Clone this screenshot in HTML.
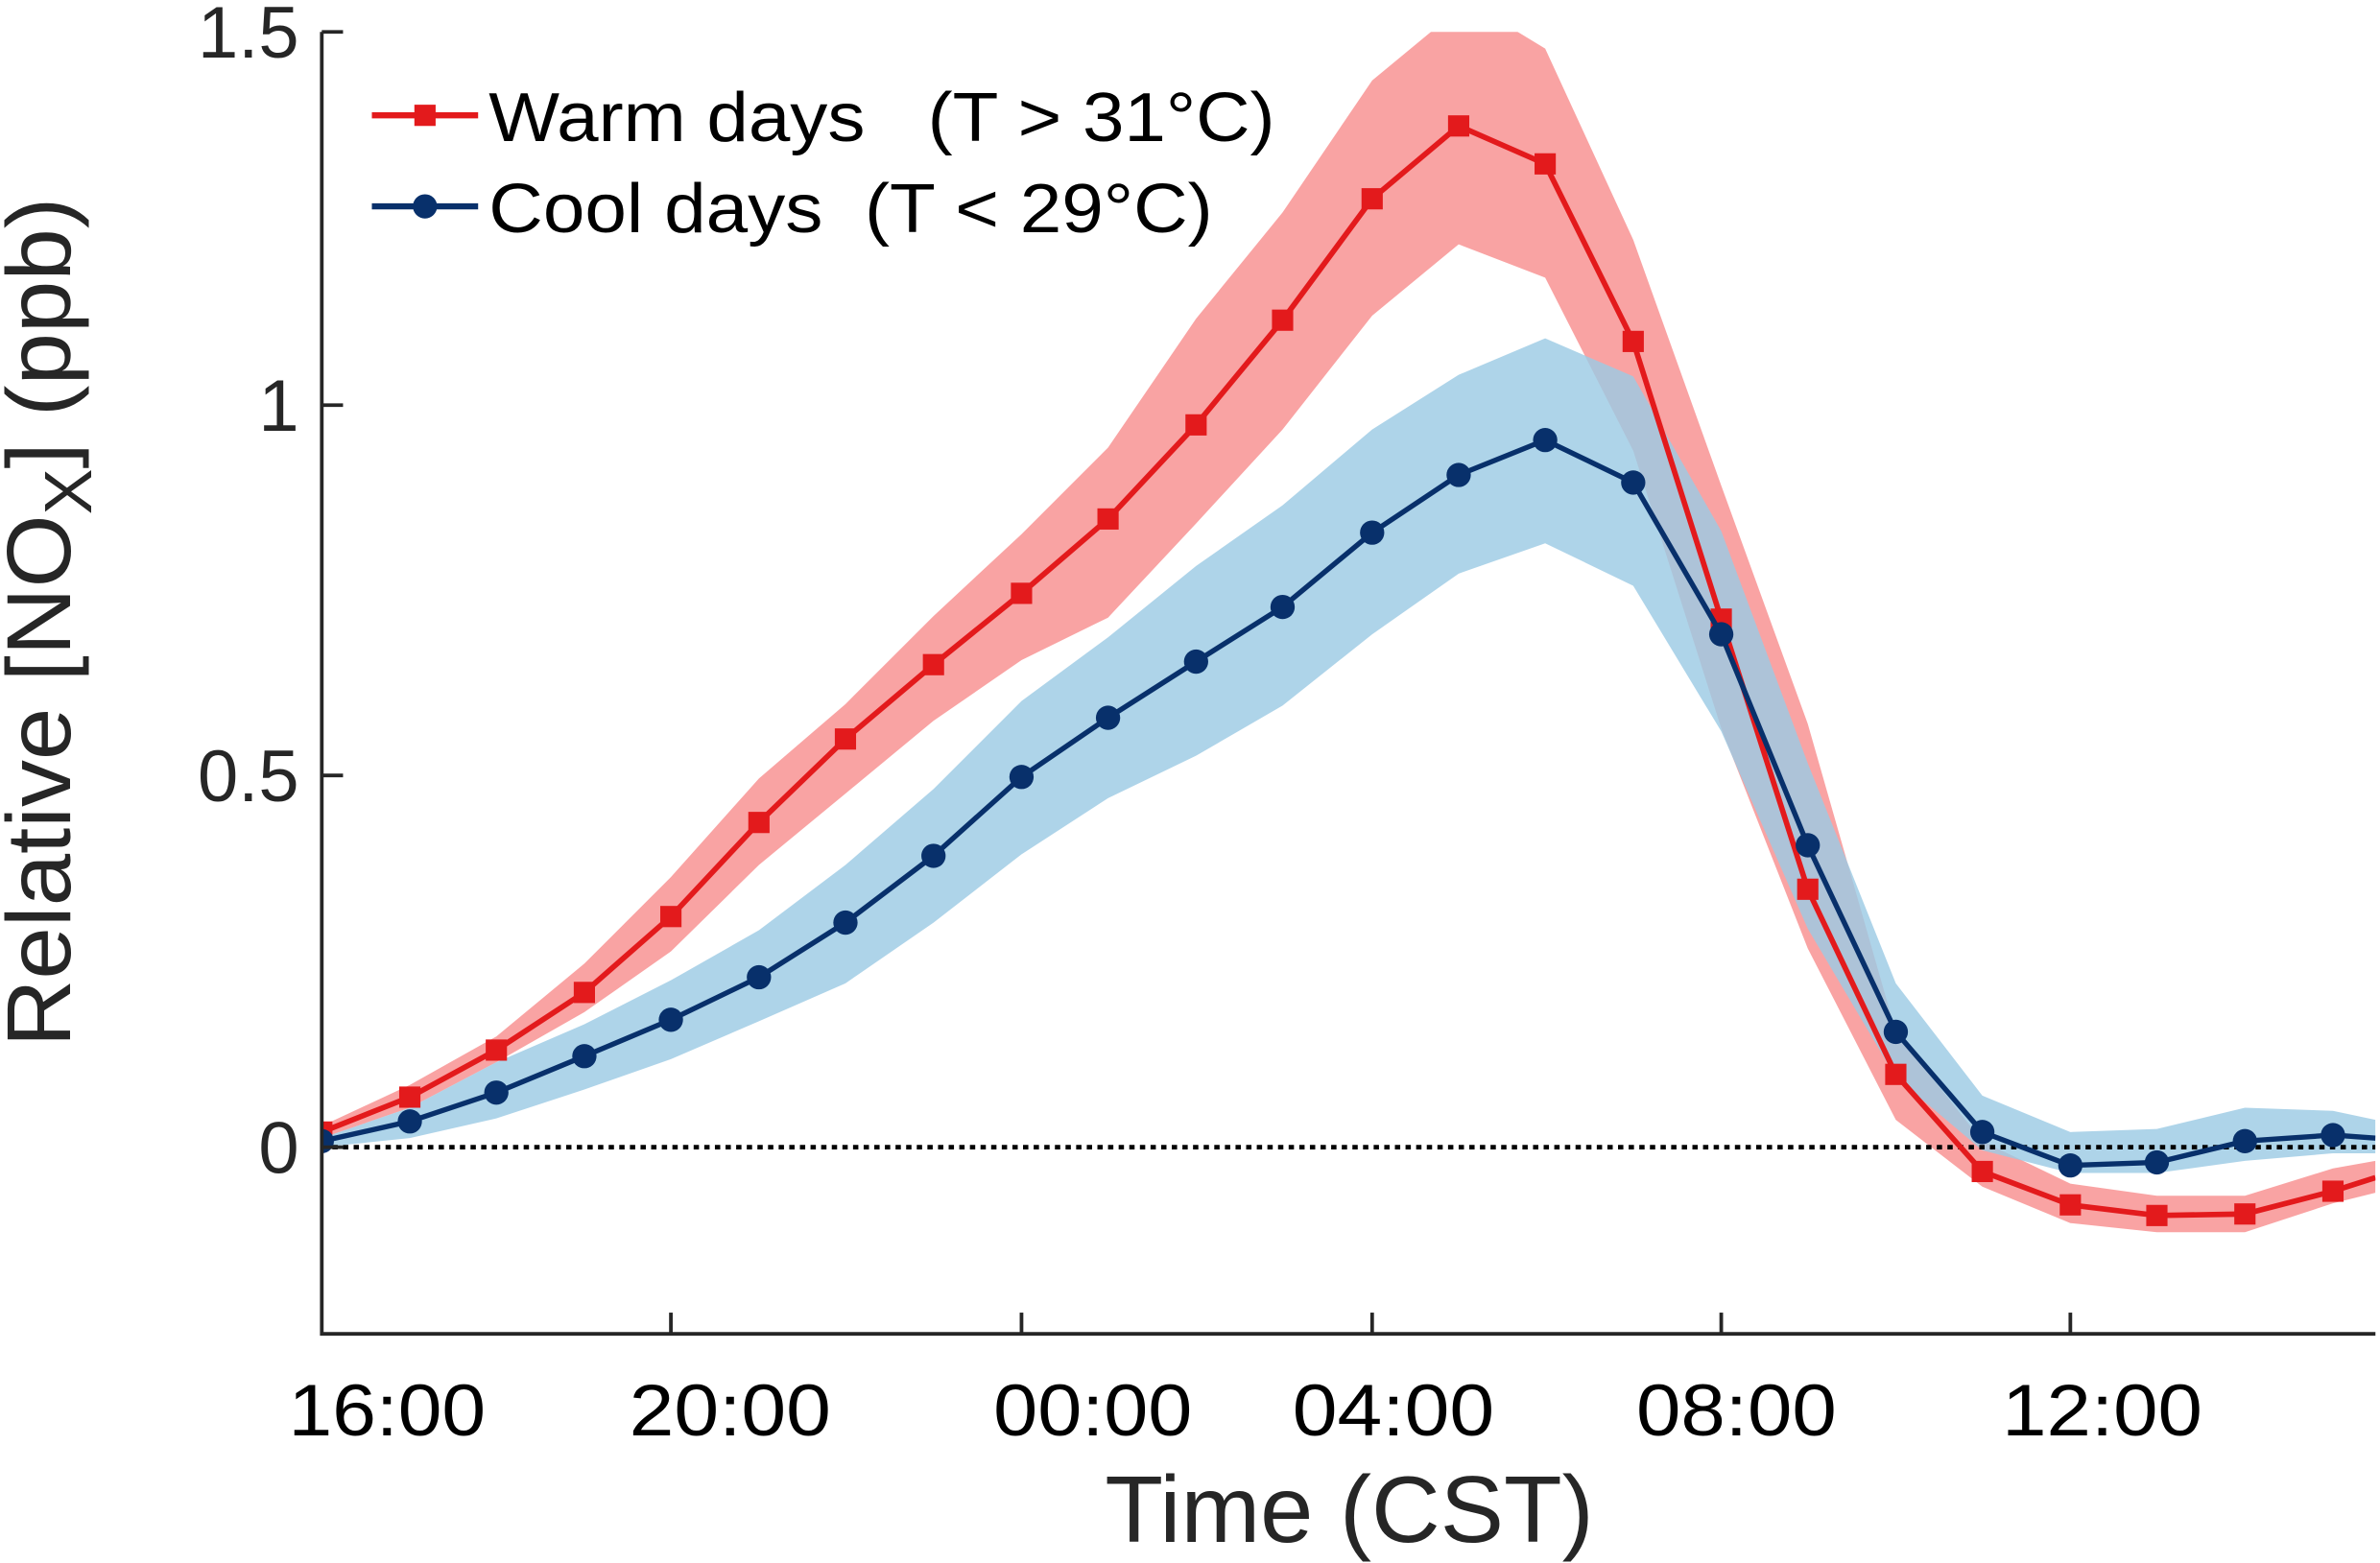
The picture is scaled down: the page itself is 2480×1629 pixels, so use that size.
<!DOCTYPE html>
<html><head><meta charset="utf-8"><style>html,body{margin:0;padding:0;background:#fff}svg{display:block}</style></head>
<body>
<svg width="2480" height="1629" viewBox="0 0 1568 1030" preserveAspectRatio="none" xmlns="http://www.w3.org/2000/svg" font-family="'Liberation Sans', Arial, sans-serif">
<defs><clipPath id="c"><rect x="212" y="21" width="1353" height="858"/></clipPath></defs>
<g clip-path="url(#c)">
<polygon fill="#f9a3a3" points="212,742 270,715 327,683 385,635 442,578 500,513 557,464 615,406 673,352 730,295 788,210 845,140 904,53 950,15 990,15 1018,32 1076,158 1134,320 1191,477 1249,680 1306,752 1364,780 1421,788 1479,788 1537,770 1565,765 1565,786 1537,793 1479,812 1421,812 1364,806 1306,782 1249,738 1191,625 1134,480 1076,297 1018,183 961,161 904,208 845,283 788,345 730,407 673,435 615,475 557,523 500,570 442,627 385,667 327,700 270,730 212,750"/>
<polygon fill="#9ccbe4" fill-opacity="0.82" points="212,750 270,730 327,700 385,675 442,646 500,613 557,570 615,520 673,462 730,420 788,373 845,333 904,283 961,247 1018,223 1076,248 1134,350 1191,503 1249,648 1306,722 1364,746 1421,744 1479,730 1537,732 1565,738 1565,760 1537,760 1479,765 1421,773 1364,773 1306,758 1249,710 1191,612 1134,482 1076,386 1018,358 961,378 904,418 845,465 788,498 730,526 673,563 615,608 557,648 500,673 442,698 385,718 327,737 270,750 212,756"/>
<line x1="212" y1="756" x2="1565" y2="756" stroke="#000" stroke-width="3" stroke-dasharray="3.5,3.5"/>
<polyline fill="none" stroke="#e31a1c" stroke-width="3.6" points="212,746 270,723 327,692 385,654 442,604 500,542 557,487 615,438 673,391 730,342 788,280 845,211 904,131 961,83 1018,108 1076,225 1134,408 1191,586 1249,708 1306,772 1364,794 1421,801 1479,800 1537,785 1565,776"/>
<g fill="#e31a1c">
<rect x="205" y="739" width="14" height="14"/><rect x="263" y="716" width="14" height="14"/><rect x="320" y="685" width="14" height="14"/><rect x="378" y="647" width="14" height="14"/><rect x="435" y="597" width="14" height="14"/><rect x="493" y="535" width="14" height="14"/><rect x="550" y="480" width="14" height="14"/><rect x="608" y="431" width="14" height="14"/><rect x="666" y="384" width="14" height="14"/><rect x="723" y="335" width="14" height="14"/><rect x="781" y="273" width="14" height="14"/><rect x="838" y="204" width="14" height="14"/><rect x="897" y="124" width="14" height="14"/><rect x="954" y="76" width="14" height="14"/><rect x="1011" y="101" width="14" height="14"/><rect x="1069" y="218" width="14" height="14"/><rect x="1127" y="401" width="14" height="14"/><rect x="1184" y="579" width="14" height="14"/><rect x="1242" y="701" width="14" height="14"/><rect x="1299" y="765" width="14" height="14"/><rect x="1357" y="787" width="14" height="14"/><rect x="1414" y="794" width="14" height="14"/><rect x="1472" y="793" width="14" height="14"/><rect x="1530" y="778" width="14" height="14"/>
</g>
<polyline fill="none" stroke="#08306b" stroke-width="3.4" points="212,752 270,739 327,720 385,696 442,672 500,644 557,608 615,564 673,512 730,473 788,436 845,400 904,351 961,313 1018,290 1076,318 1134,418 1191,557 1249,680 1306,746 1364,768 1421,766 1479,752 1537,748 1565,750"/>
<g fill="#08306b">
<circle cx="212" cy="752" r="8"/><circle cx="270" cy="739" r="8"/><circle cx="327" cy="720" r="8"/><circle cx="385" cy="696" r="8"/><circle cx="442" cy="672" r="8"/><circle cx="500" cy="644" r="8"/><circle cx="557" cy="608" r="8"/><circle cx="615" cy="564" r="8"/><circle cx="673" cy="512" r="8"/><circle cx="730" cy="473" r="8"/><circle cx="788" cy="436" r="8"/><circle cx="845" cy="400" r="8"/><circle cx="904" cy="351" r="8"/><circle cx="961" cy="313" r="8"/><circle cx="1018" cy="290" r="8"/><circle cx="1076" cy="318" r="8"/><circle cx="1134" cy="418" r="8"/><circle cx="1191" cy="557" r="8"/><circle cx="1249" cy="680" r="8"/><circle cx="1306" cy="746" r="8"/><circle cx="1364" cy="768" r="8"/><circle cx="1421" cy="766" r="8"/><circle cx="1479" cy="752" r="8"/><circle cx="1537" cy="748" r="8"/>
</g>
</g>
<g stroke="#262626" stroke-width="2.4" fill="none">
<polyline points="212,21 212,879 1565,879"/>
<line x1="212" y1="21" x2="226" y2="21"/><line x1="212" y1="267" x2="226" y2="267"/><line x1="212" y1="511" x2="226" y2="511"/><line x1="212" y1="756" x2="226" y2="756"/>
<line x1="442" y1="879" x2="442" y2="865"/><line x1="673" y1="879" x2="673" y2="865"/><line x1="904" y1="879" x2="904" y2="865"/><line x1="1134" y1="879" x2="1134" y2="865"/><line x1="1364" y1="879" x2="1364" y2="865"/>
</g>
<g fill="#262626" font-size="48" text-anchor="end">
<text x="197" y="38">1.5</text><text x="197" y="284">1</text><text x="197" y="528">0.5</text><text x="197" y="773">0</text>
</g>
<g fill="#000" font-size="48" text-anchor="middle">
<text x="255" y="946" textLength="130" lengthAdjust="spacingAndGlyphs">16:00</text><text x="481" y="946" textLength="133" lengthAdjust="spacingAndGlyphs">20:00</text><text x="720" y="946" textLength="131" lengthAdjust="spacingAndGlyphs">00:00</text><text x="918" y="946" textLength="133" lengthAdjust="spacingAndGlyphs">04:00</text><text x="1144" y="946" textLength="132" lengthAdjust="spacingAndGlyphs">08:00</text><text x="1385" y="946" textLength="132" lengthAdjust="spacingAndGlyphs">12:00</text>
</g>
<text x="889" y="1016" font-size="62" fill="#262626" text-anchor="middle" textLength="322" lengthAdjust="spacingAndGlyphs">Time (CST)</text>
<text transform="translate(46,410) rotate(-90)" font-size="60" fill="#262626" text-anchor="middle" textLength="560" lengthAdjust="spacingAndGlyphs">Relative [NO<tspan font-size="44" dy="14">X</tspan><tspan dy="-14">] (ppb)</tspan></text>
<line x1="245" y1="76" x2="315" y2="76" stroke="#e31a1c" stroke-width="4"/>
<rect x="273" y="69" width="14" height="14" fill="#e31a1c"/>
<line x1="245" y1="136" x2="315" y2="136" stroke="#08306b" stroke-width="4"/>
<circle cx="280" cy="136" r="8" fill="#08306b"/>
<text x="322" y="93" font-size="46" fill="#000" textLength="518" lengthAdjust="spacingAndGlyphs" xml:space="preserve">Warm days   (T &gt; 31°C)</text>
<text x="322" y="153" font-size="46" fill="#000" textLength="477" lengthAdjust="spacingAndGlyphs" xml:space="preserve">Cool days  (T &lt; 29°C)</text>
</svg>
</body></html>
